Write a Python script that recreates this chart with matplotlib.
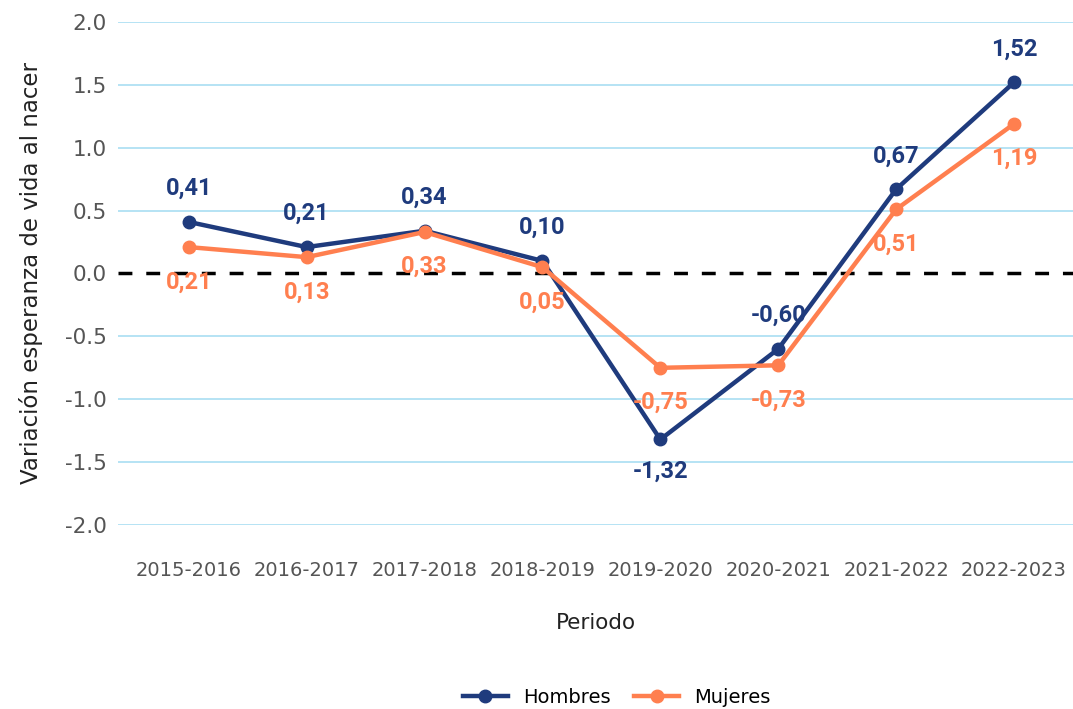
import matplotlib.pyplot as plt

# Variación anual de la esperanza de vida al nacer por sexo
periodos = ["2015-2016", "2016-2017", "2017-2018", "2018-2019",
            "2019-2020", "2020-2021", "2021-2022", "2022-2023"]
hombres = [0.41, 0.21, 0.34, 0.10, -1.32, -0.60, 0.67, 1.52]
mujeres = [0.21, 0.13, 0.33, 0.05, -0.75, -0.73, 0.51, 1.19]
yticks = [-2.0, -1.5, -1.0, -0.5, 0.0, 0.5, 1.0, 1.5, 2.0]

# etiquetas de hombres: arriba salvo el mínimo
pos_hombres = ["up", "up", "up", "up", "down", "up", "up", "up"]

azul = "#1f3b7d"
naranja = "#ff7f4f"
grid_color = "#a9def2"
texto = "#555555"

plt.rcParams["font.family"] = ["DejaVu Sans"]

fig = plt.figure(figsize=(10.73, 7.09), dpi=100)
ax = fig.add_axes([0.110, 0.2595, 0.890, 0.7095])

x = list(range(len(periodos)))

for y in yticks:
    if y != 0:
        ax.axhline(y, color=grid_color, lw=1.2, zorder=0)
ax.axhline(0, color="black", lw=2.5, ls=(0, (4, 4)), zorder=1)

ax.plot(x, hombres, color=azul, lw=3.2, marker="o", ms=9, label="Hombres", zorder=3)
ax.plot(x, mujeres, color=naranja, lw=3.2, marker="o", ms=9, label="Mujeres", zorder=4)

for i, v in enumerate(hombres):
    dy = 24 if pos_hombres[i] == "up" else -23
    ax.annotate(f"{v:.2f}".replace(".", ","), (i, v), xytext=(0, dy),
                textcoords="offset points", ha="center", va="center",
                color=azul, fontsize=17, fontweight="bold",
                family=["Roboto", "DejaVu Sans"], zorder=5)

for i, v in enumerate(mujeres):
    ax.annotate(f"{v:.2f}".replace(".", ","), (i, v), xytext=(0, -25),
                textcoords="offset points", ha="center", va="center",
                color=naranja, fontsize=17, fontweight="bold",
                family=["Roboto", "DejaVu Sans"], zorder=5)

ax.set_xlim(-0.6, 7.5)
ax.set_ylim(-2.0, 2.0)
ax.set_xticks(x)
ax.set_xticklabels(periodos)
ax.set_yticks(yticks)
ax.set_yticklabels([f"{t:.1f}" for t in yticks])
ax.tick_params(axis="both", length=0, labelcolor=texto)
ax.tick_params(axis="x", labelsize=14, pad=26)
ax.tick_params(axis="y", labelsize=15.5, pad=8)
for s in ax.spines.values():
    s.set_visible(False)

ax.set_xlabel("Periodo", fontsize=15.5, color="#222222", labelpad=24)
ax.set_ylabel("Variación esperanza de vida al nacer", fontsize=16.5, color="#222222", labelpad=16)

fig.legend(loc="lower center", bbox_to_anchor=(0.575, -0.022), ncol=2, frameon=False,
           fontsize=14, handlelength=2.3, markerscale=1.0, columnspacing=1.2)

fig.savefig("out.png", dpi=100)
